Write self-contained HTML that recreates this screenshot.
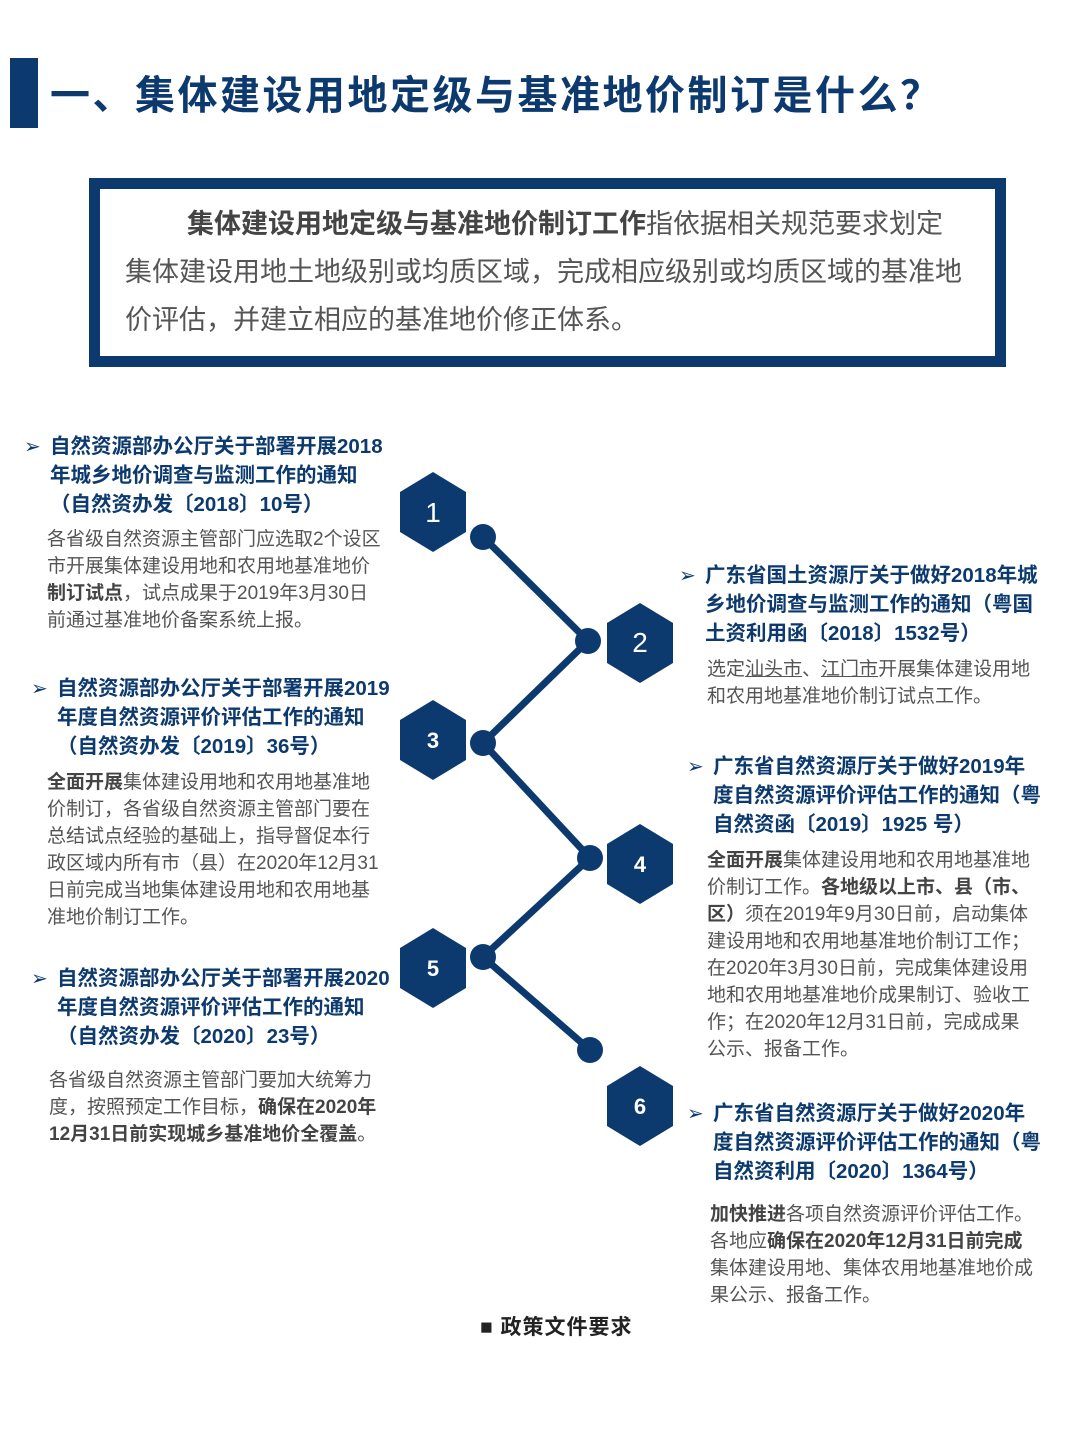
<!DOCTYPE html>
<html><head><meta charset="utf-8"><style>
body{margin:0;width:1080px;height:1440px;background:#fff;position:relative;font-family:"Liberation Sans","Noto Sans CJK SC",sans-serif;overflow:hidden}
.a{position:absolute;white-space:nowrap}
.t{color:#0d3a6e;font-weight:bold;font-size:20.5px;line-height:29px}
.b{color:#555;font-size:19px;line-height:27px}
.b b{color:#444}
.arr{position:absolute;color:#0d3a6e;font-size:20px}
</style></head><body>
<div class="a" style="left:10px;top:58px;width:28px;height:70px;background:#0d3a6e"></div>
<div class="a" style="left:50px;top:66px;font-size:40px;font-weight:bold;color:#0d3a6e;line-height:60px;letter-spacing:2.5px">一、集体建设用地定级与基准地价制订是什么？</div>
<div class="a" style="left:89px;top:178px;width:895px;height:167px;border:11px solid #0d3a6e;"></div>
<div class="a" style="left:125px;top:200px;font-size:27px;line-height:48px;color:#555">
<span style="padding-left:62px"></span><b style="color:#444">集体建设用地定级与基准地价制订工作</b>指依据相关规范要求划定<br>集体建设用地土地级别或均质区域，完成相应级别或均质区域的基准地<br>价评估，并建立相应的基准地价修正体系。</div>

<svg class="a" style="left:0;top:0" width="1080" height="1440">
<g stroke="#0d3a6e" stroke-width="7" fill="none">
<polyline points="483,537 588,641 483,743 590,858 483,957 590,1050"/>
</g>
<g fill="#0d3a6e">
<circle cx="483" cy="537" r="13"/><circle cx="588" cy="641" r="13"/><circle cx="483" cy="743" r="13"/><circle cx="590" cy="858" r="13"/><circle cx="483" cy="957" r="13"/><circle cx="590" cy="1050" r="13"/>
<polygon points="433,472 466,492 466,532 433,552 400,532 400,492"/>
<polygon points="640,603 673,623 673,663 640,683 607,663 607,623"/>
<polygon points="433,700 466,720 466,760 433,780 400,760 400,720"/>
<polygon points="640,824 673,844 673,884 640,904 607,884 607,844"/>
<polygon points="433,928 466,948 466,988 433,1008 400,988 400,948"/>
<polygon points="640,1066 673,1086 673,1126 640,1146 607,1126 607,1086"/>
</g>
<g fill="#fff" font-family="Liberation Sans,sans-serif" text-anchor="middle" font-size="28">
<text x="433" y="522">1</text><text x="640" y="652">2</text>
<text x="433" y="748" font-size="22" font-weight="bold">3</text><text x="640" y="872" font-size="22" font-weight="bold">4</text>
<text x="433" y="976" font-size="22" font-weight="bold">5</text><text x="640" y="1114" font-size="22" font-weight="bold">6</text>
</g>
</svg>

<span class="arr" style="left:24px;top:434px">➢</span>
<div class="a t" style="left:50px;top:432px">自然资源部办公厅关于部署开展2018<br>年城乡地价调查与监测工作的通知<br>（自然资办发〔2018〕10号）</div>
<div class="a b" style="left:47px;top:526px">各省级自然资源主管部门应选取2个设区<br>市开展集体建设用地和农用地基准地价<br><b>制订试点</b>，试点成果于2019年3月30日<br>前通过基准地价备案系统上报。</div>

<span class="arr" style="left:679px;top:563px">➢</span>
<div class="a t" style="left:705px;top:561px">广东省国土资源厅关于做好2018年城<br>乡地价调查与监测工作的通知（粤国<br>土资利用函〔2018〕1532号）</div>
<div class="a b" style="left:707px;top:656px">选定<u>汕头市</u>、<u>江门市</u>开展集体建设用地<br>和农用地基准地价制订试点工作。</div>

<span class="arr" style="left:31px;top:676px">➢</span>
<div class="a t" style="left:57px;top:674px">自然资源部办公厅关于部署开展2019<br>年度自然资源评价评估工作的通知<br>（自然资办发〔2019〕36号）</div>
<div class="a b" style="left:47px;top:769px"><b>全面开展</b>集体建设用地和农用地基准地<br>价制订，各省级自然资源主管部门要在<br>总结试点经验的基础上，指导督促本行<br>政区域内所有市（县）在2020年12月31<br>日前完成当地集体建设用地和农用地基<br>准地价制订工作。</div>

<span class="arr" style="left:687px;top:754px">➢</span>
<div class="a t" style="left:713px;top:752px">广东省自然资源厅关于做好2019年<br>度自然资源评价评估工作的通知（粤<br>自然资函〔2019〕1925 号）</div>
<div class="a b" style="left:707px;top:847px"><b>全面开展</b>集体建设用地和农用地基准地<br>价制订工作。<b>各地级以上市、县（市、<br>区）</b>须在2019年9月30日前，启动集体<br>建设用地和农用地基准地价制订工作；<br>在2020年3月30日前，完成集体建设用<br>地和农用地基准地价成果制订、验收工<br>作；在2020年12月31日前，完成成果<br>公示、报备工作。</div>

<span class="arr" style="left:31px;top:966px">➢</span>
<div class="a t" style="left:57px;top:964px">自然资源部办公厅关于部署开展2020<br>年度自然资源评价评估工作的通知<br>（自然资办发〔2020〕23号）</div>
<div class="a b" style="left:49px;top:1067px">各省级自然资源主管部门要加大统筹力<br>度，按照预定工作目标，<b>确保在2020年<br>12月31日前实现城乡基准地价全覆盖</b>。</div>

<span class="arr" style="left:687px;top:1101px">➢</span>
<div class="a t" style="left:713px;top:1099px">广东省自然资源厅关于做好2020年<br>度自然资源评价评估工作的通知（粤<br>自然资利用〔2020〕1364号）</div>
<div class="a b" style="left:710px;top:1201px"><b>加快推进</b>各项自然资源评价评估工作。<br>各地应<b>确保在2020年12月31日前完成</b><br>集体建设用地、集体农用地基准地价成<br>果公示、报备工作。</div>

<div class="a" style="left:480px;top:1311px;font-size:21px;font-weight:bold;color:#222;letter-spacing:1px">■ 政策文件要求</div>
</body></html>
